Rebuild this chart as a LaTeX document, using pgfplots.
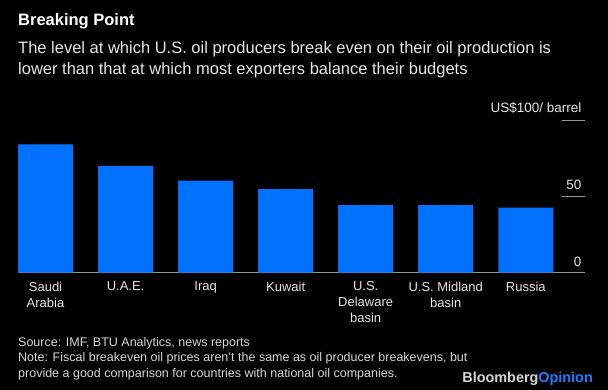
\documentclass[border=0pt]{standalone}
\usepackage{pgfplots}
\pgfplotsset{compat=1.18}
\usepackage{fontspec}
\setmainfont{Liberation Sans}
\definecolor{barblue}{RGB}{0,114,255}
\definecolor{txt}{RGB}{230,230,230}
\definecolor{foot}{RGB}{215,215,215}
\definecolor{gridc}{RGB}{150,150,150}
\definecolor{logoblue}{RGB}{30,125,255}
\begin{document}
\begin{tikzpicture}[x=1pt,y=1pt]
\fill[black] (0,0) rectangle (608,-390);
\node[anchor=base west,inner sep=0pt,text=white,font=\fontsize{16.5}{20}\selectfont\bfseries] at (18,-26) {Breaking Point};
\node[anchor=base west,inner sep=0pt,text=txt,font=\fontsize{16.5}{20}\selectfont] at (18,-54) {The level at which U.S. oil producers break even on their oil production is};
\node[anchor=base west,inner sep=0pt,text=txt,font=\fontsize{16.5}{20}\selectfont] at (18,-75) {lower than that at which most exporters balance their budgets};
\begin{axis}[
  at={(18pt,-272.7pt)}, anchor=south west,
  scale only axis, width=567pt, height=152.7pt,
  xmin=-0.34375, xmax=6.74, ymin=0, ymax=100,
  axis x line=bottom, axis y line=right,
  x axis line style={gridc, line width=0.6pt, -},
  y axis line style={draw=none},
  xtick={0,1,2,3,4,5,6},
  xticklabels={{Saudi\\Arabia},{U.A.E.},{Iraq},{Kuwait},{U.S.\\Delaware\\basin},{U.S. Midland\\basin},{Russia}},
  xticklabel style={align=center, text=txt, font=\fontsize{13}{16}\selectfont, yshift=17.5pt},
  major x tick style={draw=none},
  ytick={0,50,100},
  yticklabels={0,50,{US\$100/ barrel}},
  ytick pos=right,
  major tick length=23pt,
  tick align=inside,
  major y tick style={gridc, line width=0.6pt},
  yticklabel style={anchor=south east, text=txt, font=\fontsize{13.5}{16}\selectfont, xshift=0pt, yshift=3pt},
  /pgf/number format/assume math mode=true,
  ybar, bar width=55pt,
  clip=false,
]
\addplot[fill=barblue, draw=none, bar shift=0pt] coordinates {
  (0,84) (1,70) (2,60.3) (3,54.8) (4,44.3) (5,44.3) (6,42.6)
};
\end{axis}
\node[anchor=base west,inner sep=0pt,text=foot,font=\fontsize{12.5}{15.5}\selectfont] at (18,-346) {Source: IMF, BTU Analytics, news reports};
\node[anchor=base west,inner sep=0pt,text=foot,font=\fontsize{12.5}{15.5}\selectfont] at (18,-361.5) {Note: Fiscal breakeven oil prices aren't the same as oil producer breakevens, but};
\node[anchor=base west,inner sep=0pt,text=foot,font=\fontsize{12.5}{15.5}\selectfont] at (18,-377) {provide a good comparison for countries with national oil companies.};
\node[anchor=base east,inner sep=0pt,font=\fontsize{14.4}{16}\selectfont\bfseries] at (593,-382) {\textcolor{foot}{Bloomberg}\textcolor{logoblue}{Opinion}};
\end{tikzpicture}
\end{document}
